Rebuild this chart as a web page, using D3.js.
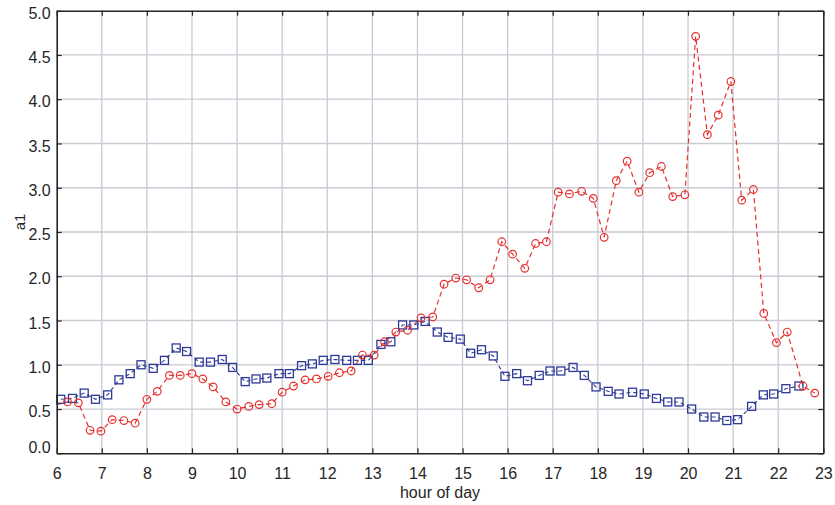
<!DOCTYPE html>
<html>
<head>
<meta charset="utf-8">
<script src="https://cdn.jsdelivr.net/npm/d3@7"></script>
<style>
  body { margin: 0; background: #fff; }
  text { font-family: "Liberation Sans", Arial, sans-serif; }
</style>
</head>
<body>
<script>
// red series (circles), irregular sample times
const redHour = [6.0, 6.24, 6.48, 6.74, 6.98, 7.23, 7.49, 7.74, 8.0, 8.23, 8.5, 8.74, 9.0, 9.24, 9.47, 9.75,
  10.0, 10.26, 10.49, 10.77, 11.0, 11.25, 11.51, 11.76, 12.02, 12.27, 12.53, 12.78, 13.04, 13.27, 13.52, 13.78,
  14.08, 14.34, 14.59, 14.85, 15.09, 15.36, 15.61, 15.87, 16.11, 16.38, 16.62, 16.86, 17.12, 17.37, 17.64, 17.9,
  18.14, 18.41, 18.65, 18.91, 19.15, 19.41, 19.66, 19.93, 20.17, 20.43, 20.67, 20.95, 21.19, 21.45, 21.68, 21.96,
  22.2, 22.55, 22.81];
const redVal = [0.55, 0.58, 0.57, 0.26, 0.25, 0.38, 0.37, 0.34, 0.61, 0.70, 0.88, 0.88, 0.90, 0.84, 0.75, 0.58,
  0.50, 0.53, 0.55, 0.56, 0.69, 0.76, 0.83, 0.84, 0.87, 0.91, 0.93, 1.11, 1.11, 1.26, 1.37, 1.39,
  1.53, 1.54, 1.91, 1.98, 1.96, 1.87, 1.96, 2.39, 2.25, 2.09, 2.37, 2.39, 2.95, 2.93, 2.96, 2.88,
  2.44, 3.08, 3.30, 2.95, 3.17, 3.24, 2.90, 2.92, 4.71, 3.60, 3.82, 4.20, 2.86, 2.98, 1.58, 1.25,
  1.37, 0.76, 0.68];

// blue series (squares)
const blueHour = [6.09, 6.35, 6.61, 6.86, 7.13, 7.38, 7.63, 7.87, 8.14, 8.39, 8.65, 8.88, 9.16, 9.41, 9.67, 9.9,
  10.18, 10.42, 10.66, 10.93, 11.16, 11.43, 11.67, 11.91, 12.17, 12.43, 12.67, 12.91, 13.19, 13.41, 13.67, 13.92,
  14.17, 14.44, 14.68, 14.95, 15.18, 15.42, 15.68, 15.94, 16.2, 16.44, 16.7, 16.94, 17.18, 17.45, 17.7, 17.96,
  18.23, 18.47, 18.77, 19.03, 19.3, 19.55, 19.8, 20.08, 20.35, 20.6, 20.86, 21.1, 21.41, 21.67, 21.9, 22.17, 22.46];
const blueVal = [0.61, 0.62, 0.68, 0.61, 0.66, 0.83, 0.90, 1.00, 0.96, 1.05, 1.19, 1.15, 1.03, 1.03, 1.06, 0.97,
  0.81, 0.84, 0.85, 0.90, 0.90, 0.99, 1.01, 1.05, 1.06, 1.05, 1.05, 1.05, 1.23, 1.26, 1.45, 1.45,
  1.49, 1.37, 1.31, 1.29, 1.13, 1.17, 1.10, 0.87, 0.90, 0.82, 0.88, 0.93, 0.93, 0.97, 0.88, 0.75,
  0.70, 0.67, 0.69, 0.67, 0.62, 0.58, 0.58, 0.50, 0.41, 0.41, 0.37, 0.38, 0.53, 0.66, 0.67, 0.73, 0.76];

const xTicks = d3.range(6, 24, 1);
const yTicks = d3.range(0, 5.01, 0.5);

const m = { width: 835, height: 505 };
const box = { left: 56.7, right: 823.3, top: 10.7, bottom: 453.3 };

const red = redHour.map((h, i) => ({ x: h, y: redVal[i] }));
const blue = blueHour.map((h, i) => ({ x: h, y: blueVal[i] }));

let svg = d3.select("body").append("svg")
  .attr("width", m.width)
  .attr("height", m.height);

let x = d3.scaleLinear().domain([6, 23]).range([box.left, box.right]);
let y = d3.scaleLinear().domain([0, 5]).range([box.bottom, box.top]);

// grid
let grid = svg.append("g").attr("stroke", "#c9cad3").attr("stroke-width", 1.3);
grid.selectAll(".gx").data(xTicks.slice(1, -1)).enter().append("line")
  .attr("x1", d => x(d)).attr("x2", d => x(d))
  .attr("y1", box.top).attr("y2", box.bottom);
grid.selectAll(".gy").data(yTicks.slice(1, -1)).enter().append("line")
  .attr("y1", d => y(d)).attr("y2", d => y(d))
  .attr("x1", box.left).attr("x2", box.right);

// lines
let line = d3.line().x(d => x(d.x)).y(d => y(d.y));

svg.append("path").datum(blue)
  .attr("fill", "none").attr("stroke", "#2d3a96").attr("stroke-width", 1.1)
  .attr("stroke-dasharray", "4,3")
  .attr("d", line);

svg.append("path").datum(red)
  .attr("fill", "none").attr("stroke", "#e5302e").attr("stroke-width", 1.2)
  .attr("stroke-dasharray", "5,3.5")
  .attr("d", line);

// markers
svg.append("g").selectAll("rect").data(blue).enter().append("rect")
  .attr("x", d => x(d.x) - 4).attr("y", d => y(d.y) - 4)
  .attr("width", 8).attr("height", 8)
  .attr("fill", "none").attr("stroke", "#2d3a96").attr("stroke-width", 1.3);

// marker sitting on the left edge is clipped in the original
svg.append("g").selectAll("circle").data(red.filter(d => d.x > 6)).enter().append("circle")
  .attr("cx", d => x(d.x)).attr("cy", d => y(d.y)).attr("r", 3.8)
  .attr("fill", "none").attr("stroke", "#e5302e").attr("stroke-width", 1.2);

// axes, ticks pointing inward
const fmt = d3.format(".1f");

let xAxis = svg.append("g").attr("transform", `translate(0,${box.bottom})`)
  .call(d3.axisBottom(x).tickValues(xTicks).tickSizeInner(-5).tickSizeOuter(0).tickPadding(14));
let yAxis = svg.append("g").attr("transform", `translate(${box.left},0)`)
  .call(d3.axisLeft(y).tickValues(yTicks).tickFormat(fmt).tickSizeInner(-5).tickSizeOuter(0).tickPadding(6));
svg.append("g").attr("transform", `translate(0,${box.top})`)
  .call(d3.axisTop(x).tickValues(xTicks).tickFormat("").tickSizeInner(-5).tickSizeOuter(0));
svg.append("g").attr("transform", `translate(${box.right},0)`)
  .call(d3.axisRight(y).tickValues(yTicks).tickFormat("").tickSizeInner(-5).tickSizeOuter(0));

svg.selectAll(".domain").attr("stroke", "#262626").attr("stroke-width", 1.6);
svg.selectAll(".tick line").attr("stroke", "#262626").attr("stroke-width", 1.2);
svg.selectAll(".tick text").attr("fill", "#262626").attr("font-size", 16)
  .attr("font-family", "Liberation Sans, Arial, sans-serif");
yAxis.selectAll(".tick text").attr("dy", d => d === 0 ? "-0.05em" : "0.48em");

// axis titles
svg.append("text")
  .attr("x", (box.left + box.right) / 2).attr("y", 498)
  .attr("text-anchor", "middle").attr("font-size", 16).attr("fill", "#262626")
  .text("hour of day");

svg.append("text")
  .attr("transform", "translate(25,222) rotate(-90)")
  .attr("text-anchor", "middle").attr("font-size", 15).attr("fill", "#262626")
  .text("a1");
</script>
</body>
</html>
